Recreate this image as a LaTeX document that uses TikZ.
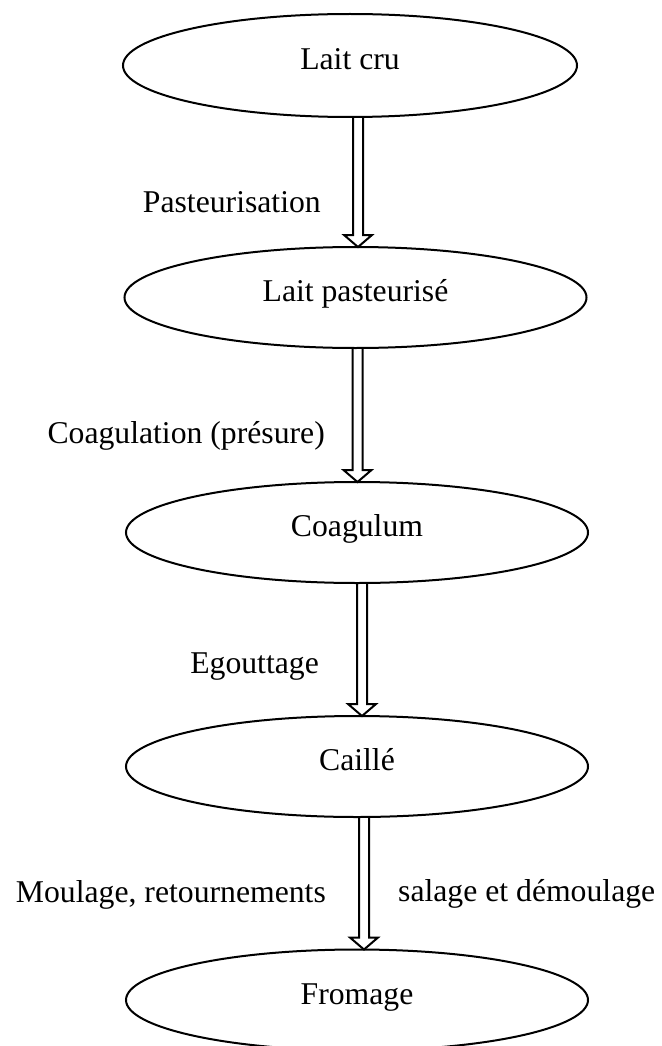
\documentclass[tikz,border=0pt]{standalone}
\usepackage{fontspec}
\setmainfont{Liberation Serif}
\usetikzlibrary{shapes.geometric,calc}
\begin{document}
\begin{tikzpicture}[x=1pt,y=-1pt,
  stage/.style={ellipse,draw,line width=2pt,inner sep=0pt,outer sep=0pt,
    minimum width=462pt,minimum height=101pt,
    font=\fontsize{31.7}{38}\selectfont,text height=18pt,text depth=10pt},
  lbl/.style={inner sep=0pt,font=\fontsize{31.7}{38}\selectfont},
  dblarrow/.style={draw,line width=2pt,line join=miter}]
\clip (0,0) rectangle (661,1046);
\newcommand\dblarr[3]{%
  \draw[dblarrow] let \p1=(#1.south), \p2=(#2.north) in
    (#3pt-5pt,\y1) -- (#3pt-5pt,\y2+12pt) -- (#3pt-14pt,\y2+12pt) --
    (#3pt,\y2) -- (#3pt+14pt,\y2+12pt) -- (#3pt+5pt,\y2+12pt) -- (#3pt+5pt,\y1);}
\node[stage,minimum width=454pt,minimum height=103pt] (lc) at (350,65.5) {Lait cru};
\node[stage] (lp) at (355.5,297.5) {Lait pasteurisé};
\node[stage] (cg) at (357,532.5) {Coagulum};
\node[stage] (ca) at (357,766.5) {Caillé};
\node[stage] (fr) at (357,1000) {Fromage};
\dblarr{lc}{lp}{358}
\dblarr{lp}{cg}{357.5}
\dblarr{cg}{ca}{362}
\dblarr{ca}{fr}{364}
\node[lbl,anchor=base east] (l1) at (321,212) {Pasteurisation};
\node[lbl,anchor=base east] (l2) at (325,443) {Coagulation (présure)};
\node[lbl,anchor=base east] (l3) at (319,673) {Egouttage};
\node[lbl,anchor=base east] (l4) at (326,902) {Moulage, retournements};
\node[lbl,anchor=base west] (l5) at (398,901) {salage et démoulage};
\end{tikzpicture}
\end{document}
